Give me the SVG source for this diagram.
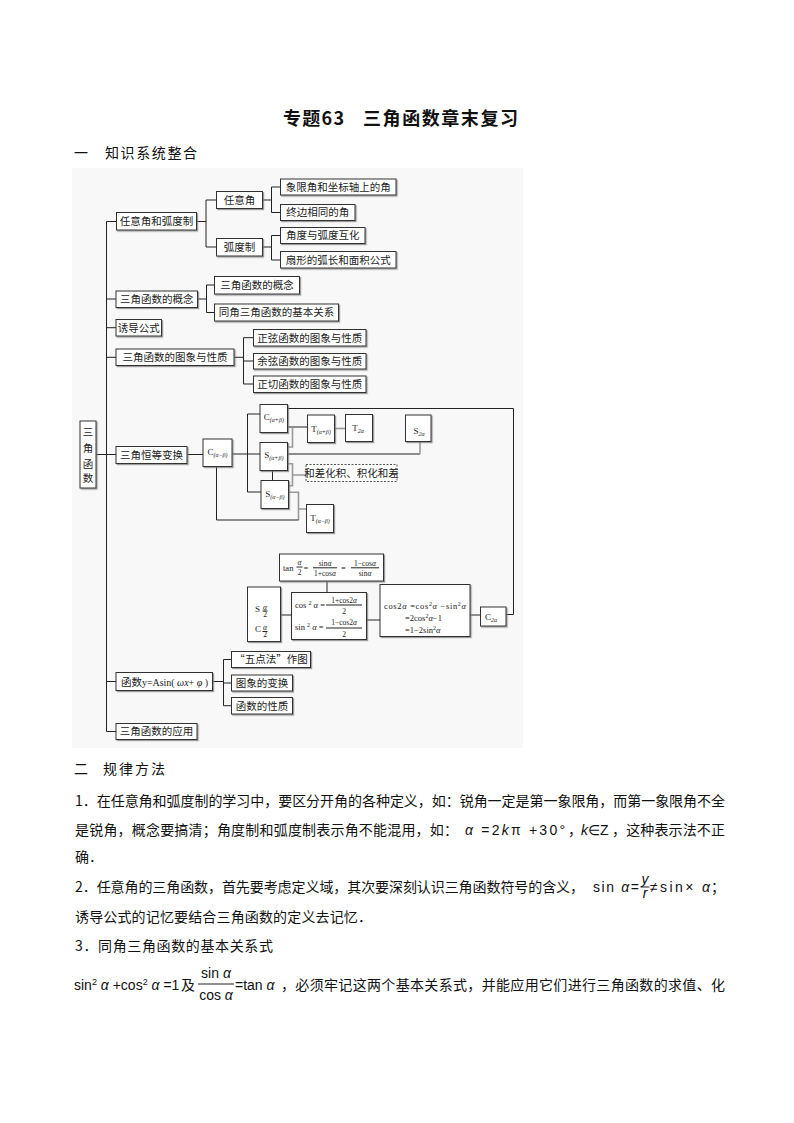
<svg xmlns="http://www.w3.org/2000/svg" width="794" height="1123" viewBox="0 0 794 1123">
<defs>
<filter id="sh" x="-20%" y="-20%" width="140%" height="140%"><feDropShadow dx="1.2" dy="1.2" stdDeviation="0.2" flood-color="#777" flood-opacity="0.7"/></filter>
<style>
.bx{fill:#fff;stroke:#333;stroke-width:1;filter:url(#sh)}
.dbx{fill:#fff;stroke:#555;stroke-width:1;stroke-dasharray:2 1.5}
.k{stroke:#222;stroke-width:1;fill:none}
.g{stroke:#999;stroke-width:1.6;fill:none}
.c{font-family:"Noto Sans CJK SC","Noto Sans",sans-serif;font-size:10.5px;fill:#222;text-anchor:middle}
.cl{font-family:"Noto Sans CJK SC","Noto Sans",sans-serif;font-size:10.5px;fill:#222}
.L{font-family:"Liberation Serif",serif;font-size:9px;fill:#222}
.s{font-size:6px;font-style:italic}
.m{font-family:"Liberation Serif",serif;font-size:8.5px;fill:#222}
.ms{font-family:"Liberation Serif",serif;font-size:7.5px;fill:#222;text-anchor:middle}
.i{font-style:italic}
.t{font-family:"Noto Sans CJK SC","Noto Sans",sans-serif;font-size:14px;fill:#111}
.tm{font-family:"Liberation Sans",sans-serif;font-size:14px;fill:#111}
.h{font-family:"Noto Sans CJK SC","Noto Sans",sans-serif;font-size:18px;font-weight:bold;fill:#111}
</style>
</defs>
<rect width="794" height="1123" fill="#fff"/>
<text class="h" x="283" y="125" textLength="61" lengthAdjust="spacing">专题63</text>
<text class="h" x="363" y="125" textLength="155" lengthAdjust="spacing">三角函数章末复习</text>
<text class="t" x="74" y="158">一</text>
<text class="t" x="105" y="158" textLength="92" lengthAdjust="spacing">知识系统整合</text>
<rect x="72" y="168" width="451" height="580" fill="#f8f8f8"/>

<g id="connectors">
<path class="k" d="M106.5 221.5V731.5M106.5 221.5H116.5M106.5 299H116M106.5 327.7H116M106.5 357.3H116M96 454.5H116M106.5 681.5H116M106.5 731.5H116"/>
<path class="k" d="M196.5 221.5H206M206 200V247M206 200H216.5M206 247H216.5"/>
<path class="k" d="M262.5 200H271.5M271.5 187V212.5M271.5 187H280.5M271.5 212.5H280.5"/>
<path class="k" d="M262.5 247H271.5M271.5 235.5V260M271.5 235.5H280.5M271.5 260H280.5"/>
<path class="k" d="M197.5 299H206.5M206.5 285V312.5M206.5 285H214.5M206.5 312.5H214.5"/>
<path class="k" d="M234 357.3H243.5M243.5 337.7V384M243.5 337.7H253.5M243.5 361H253.5M243.5 384H253.5"/>
<path class="k" d="M187 454.5H203M232 454H260M247.5 414V492M247.5 414H260M247.5 492H261"/>
<path class="k" d="M287.5 408.5H513.5V614.5H506"/>
<path class="k" d="M287.5 427H307.5"/>
<path class="g" d="M287.5 447H292.5V427"/>
<path class="g" d="M334.5 428.5H345.5"/>
<path class="k" d="M287.5 454H420"/>
<path class="g" d="M420 454V441.5"/>
<path class="k" d="M272.5 470.5V480.5"/>
<path class="g" d="M287.5 463.7H292.5V485.7H288.5M292.5 475H306"/>
<path class="g" d="M288.5 492.3H298.5V520M298.5 509H306.5"/>
<path class="k" d="M216.5 466.5V520H298.5"/>
<path class="k" d="M327 581V592.5M280.5 615H291.5M366.5 620H380M470 615H480.5"/>
<path class="k" d="M212.5 681.5H223.5M223.5 659.5V705.7M223.5 659.5H231.5M223.5 683H231.5M223.5 705.7H231.5"/>
</g>

<g id="n-root"><rect class="bx" x="80" y="421" width="16" height="67"/>
<text class="c" font-size="11.5" x="88" y="436">三</text><text class="c" font-size="11.5" x="88" y="452">角</text><text class="c" font-size="11.5" x="88" y="467.5">函</text><text class="c" font-size="11.5" x="88" y="482">数</text></g>

<g id="n-rydhd"><rect class="bx" x="116.5" y="212.5" width="80" height="17.5"/><text class="c" x="156.5" y="225.3">任意角和弧度制</text></g>
<g id="n-ryj"><rect class="bx" x="216.5" y="191.5" width="46" height="17"/><text class="c" x="239.5" y="203.8">任意角</text></g>
<g id="n-hdz"><rect class="bx" x="216.5" y="238.5" width="46" height="17.5"/><text class="c" x="239.5" y="251">弧度制</text></g>
<g id="n-xxj"><rect class="bx" x="280.5" y="179" width="115.5" height="16"/><text class="c" x="338.2" y="190.8">象限角和坐标轴上的角</text></g>
<g id="n-zbxt"><rect class="bx" x="280.5" y="204.5" width="74.5" height="16"/><text class="c" x="317.7" y="216.3">终边相同的角</text></g>
<g id="n-jdhd"><rect class="bx" x="280.5" y="227.5" width="84.5" height="16"/><text class="c" x="322.7" y="239.3">角度与弧度互化</text></g>
<g id="n-sx"><rect class="bx" x="280.5" y="251.5" width="115.5" height="16.5"/><text class="c" x="338.2" y="263.6">扇形的弧长和面积公式</text></g>

<g id="n-gn"><rect class="bx" x="116" y="291" width="81.5" height="16.5"/><text class="c" x="156.7" y="303">三角函数的概念</text></g>
<g id="n-gn2"><rect class="bx" x="214.5" y="276.5" width="85" height="17.5"/><text class="c" x="257" y="289">三角函数的概念</text></g>
<g id="n-tj"><rect class="bx" x="214.5" y="304" width="124" height="17"/><text class="c" x="276.5" y="316.3">同角三角函数的基本关系</text></g>
<g id="n-yd"><rect class="bx" x="116" y="319.5" width="45.5" height="16.5"/><text class="c" x="138.7" y="331.5">诱导公式</text></g>
<g id="n-tx"><rect class="bx" x="116" y="349" width="118" height="16.5"/><text class="c" x="175" y="361">三角函数的图象与性质</text></g>
<g id="n-zx"><rect class="bx" x="253.5" y="329.5" width="112.5" height="16.5"/><text class="c" x="309.7" y="341.5">正弦函数的图象与性质</text></g>
<g id="n-yx"><rect class="bx" x="253.5" y="353.5" width="112.5" height="15.5"/><text class="c" x="309.7" y="365">余弦函数的图象与性质</text></g>
<g id="n-zq"><rect class="bx" x="253.5" y="376" width="112.5" height="16.5"/><text class="c" x="309.7" y="388">正切函数的图象与性质</text></g>

<g id="n-hd"><rect class="bx" x="116" y="446.5" width="71" height="17"/><text class="c" x="151.5" y="458.8">三角恒等变换</text></g>
<g id="n-cmb"><rect class="bx" x="203" y="439" width="29" height="27.5"/><text class="L" x="217.5" y="455" text-anchor="middle">C<tspan class="s" dy="1.5">(α−β)</tspan></text></g>
<g id="n-cpb"><rect class="bx" x="260" y="404.5" width="27.5" height="28"/><text class="L" x="273.8" y="420" text-anchor="middle">C<tspan class="s" dy="1.5">(α+β)</tspan></text></g>
<g id="n-tpb"><rect class="bx" x="307.5" y="415" width="27" height="27.5"/><text class="L" x="321" y="432" text-anchor="middle">T<tspan class="s" dy="1.5">(α+β)</tspan></text></g>
<g id="n-t2a"><rect class="bx" x="345.5" y="414.5" width="27" height="27"/><text class="L" x="358" y="431" text-anchor="middle">T<tspan class="s" dy="1.5">2α</tspan></text></g>
<g id="n-s2a"><rect class="bx" x="405.5" y="415" width="25.5" height="26.5"/><text class="L" x="419" y="434" text-anchor="middle">S<tspan class="s" dy="1.5">2α</tspan></text></g>
<g id="n-spb"><rect class="bx" x="260" y="442.5" width="27.5" height="28"/><text class="L" x="273.8" y="458" text-anchor="middle">S<tspan class="s" dy="1.5">(α+β)</tspan></text></g>
<g id="n-hc"><rect class="dbx" x="306" y="464.5" width="91" height="17"/><text class="c" x="351.5" y="476.8">和差化积、积化和差</text></g>
<g id="n-smb"><rect class="bx" x="261" y="480.5" width="27.5" height="28"/><text class="L" x="274.8" y="497" text-anchor="middle">S<tspan class="s" dy="1.5">(α−β)</tspan></text></g>
<g id="n-tmb"><rect class="bx" x="306.5" y="504.5" width="27" height="28"/><text class="L" x="320" y="521" text-anchor="middle">T<tspan class="s" dy="1.5">(α−β)</tspan></text></g>

<g id="n-tanhalf"><rect class="bx" x="279.5" y="554" width="104" height="27"/>
<text class="m" x="283" y="570.5">tan</text>
<text class="ms i" x="299.5" y="565">α</text><path class="k" stroke-width="0.6" d="M296.5 567H302.5"/><text class="ms" x="299.5" y="574.5">2</text>
<text class="m" x="303.5" y="570.5">=</text>
<text class="ms" x="325" y="565.5">sin<tspan class="i">α</tspan></text><path class="k" stroke-width="0.6" d="M313 567.8H337"/><text class="ms" x="325" y="576">1+cos<tspan class="i">α</tspan></text>
<text class="m" x="341" y="570.5">=</text>
<text class="ms" x="365" y="565.5">1−cos<tspan class="i">α</tspan></text><path class="k" stroke-width="0.6" d="M351 567.8H379"/><text class="ms" x="365" y="576">sin<tspan class="i">α</tspan></text>
</g>
<g id="n-halfsc"><rect class="bx" x="247.5" y="587" width="33" height="54.5"/>
<text class="L" x="255" y="612">S</text><text class="ms i" font-size="5" x="265" y="609.5">α</text><path class="k" stroke-width="0.5" d="M262.5 611H267.5"/><text class="ms" font-size="5" x="265" y="616.5">2</text>
<text class="L" x="255" y="632">C</text><text class="ms i" font-size="5" x="265" y="630">α</text><path class="k" stroke-width="0.5" d="M262.5 631.5H267.5"/><text class="ms" font-size="5" x="265" y="637">2</text>
</g>
<g id="n-sq"><rect class="bx" x="291.5" y="592.5" width="75" height="47"/>
<text class="m" x="295" y="608">cos <tspan font-size="6" dy="-3">2</tspan><tspan class="i" dy="3"> α</tspan> =</text>
<text class="ms" font-size="8" x="344" y="602.5">1+cos2<tspan class="i">α</tspan></text><path class="k" stroke-width="0.6" d="M326 605H362"/><text class="ms" font-size="8" x="344" y="613.5">2</text>
<text class="m" x="295" y="629.5">sin <tspan font-size="6" dy="-3">2</tspan><tspan class="i" dy="3"> α</tspan> =</text>
<text class="ms" font-size="8" x="344" y="625">1−cos2<tspan class="i">α</tspan></text><path class="k" stroke-width="0.6" d="M326 628H362"/><text class="ms" font-size="8" x="344" y="637">2</text>
</g>
<g id="n-cos2a"><rect class="bx" x="380" y="584.5" width="90" height="52"/>
<text class="m" x="384" y="609" textLength="82" lengthAdjust="spacing">cos2<tspan class="i">α</tspan> =cos<tspan font-size="6" dy="-3">2</tspan><tspan class="i" dy="3">α</tspan> −sin<tspan font-size="6" dy="-3">2</tspan><tspan class="i" dy="3">α</tspan></text>
<text class="m" x="405" y="620.5">=2cos<tspan font-size="6" dy="-3">2</tspan><tspan class="i" dy="3">α</tspan>−1</text>
<text class="m" x="405" y="632.5">=1−2sin<tspan font-size="6" dy="-3">2</tspan><tspan class="i" dy="3">α</tspan></text>
</g>
<g id="n-c2a"><rect class="bx" x="480.5" y="607" width="25.5" height="19"/><text class="L" x="485" y="620">C<tspan class="s" dy="1.5">2α</tspan></text></g>

<g id="n-asin"><rect class="bx" x="116" y="672.5" width="96.5" height="18"/><text class="cl" x="121" y="685.5" textLength="87" lengthAdjust="spacing">函数<tspan font-family="Liberation Serif" font-size="10">y=Asin( </tspan><tspan font-family="Liberation Serif" font-size="10" font-style="italic">ωx</tspan><tspan font-family="Liberation Serif" font-size="10">+ </tspan><tspan font-family="Liberation Serif" font-size="10" font-style="italic">φ</tspan><tspan font-family="Liberation Serif" font-size="10"> )</tspan></text></g>
<g id="n-wd"><rect class="bx" x="231.5" y="651.5" width="79" height="16"/><text class="c" x="271" y="663.3">“五点法”作图</text></g>
<g id="n-bh"><rect class="bx" x="231.5" y="675" width="61" height="16"/><text class="c" x="262" y="686.8">图象的变换</text></g>
<g id="n-xz"><rect class="bx" x="231.5" y="697.5" width="61" height="16.5"/><text class="c" x="262" y="709.5">函数的性质</text></g>
<g id="n-yy"><rect class="bx" x="116" y="723.5" width="81" height="16"/><text class="c" x="156.5" y="735.3">三角函数的应用</text></g>

<text class="t" x="74" y="774">二</text>
<text class="t" x="103" y="774" textLength="62" lengthAdjust="spacing">规律方法</text>
<text class="t" x="75" y="806" textLength="650" lengthAdjust="spacing">1．在任意角和弧度制的学习中，要区分开角的各种定义，如：锐角一定是第一象限角，而第一象限角不全</text>
<text class="t" x="75" y="835" textLength="383" lengthAdjust="spacing">是锐角，概念要搞清；角度制和弧度制表示角不能混用，如：</text>
<text class="tm" x="465" y="835" textLength="100" lengthAdjust="spacing"><tspan class="i">α</tspan> =2<tspan class="i">k</tspan>π +30°</text>
<text class="t" x="568" y="835">，</text>
<text class="tm" x="581" y="835"><tspan class="i">k</tspan>∈Z</text>
<text class="t" x="612" y="835" textLength="113" lengthAdjust="spacing">，这种表示法不正</text>
<text class="t" x="75" y="862">确．</text>
<text class="t" x="75" y="892" textLength="509" lengthAdjust="spacing">2．任意角的三角函数，首先要考虑定义域，其次要深刻认识三角函数符号的含义，</text>
<text class="tm" x="593" y="892" textLength="46" lengthAdjust="spacing">sin <tspan class="i">α</tspan>=</text>
<text class="tm i" x="645" y="884" text-anchor="middle">y</text>
<path class="k" d="M640.5 887H649.5"/>
<text class="tm i" x="645" y="898" text-anchor="middle">r</text>
<text class="tm" x="650" y="892" textLength="60" lengthAdjust="spacing">≠sin× <tspan class="i">α</tspan></text>
<text class="t" x="711" y="892">；</text>
<text class="t" x="75" y="922" textLength="297" lengthAdjust="spacing">诱导公式的记忆要结合三角函数的定义去记忆．</text>
<text class="t" x="75" y="951" textLength="198" lengthAdjust="spacing">3．同角三角函数的基本关系式</text>
<text class="tm" x="74" y="990">sin<tspan font-size="9" dy="-5">2</tspan><tspan class="i" dy="5"> α</tspan> +cos<tspan font-size="9" dy="-5">2</tspan><tspan class="i" dy="5"> α</tspan> =1</text>
<text class="t" x="181" y="990">及</text>
<text class="tm" x="216" y="978" text-anchor="middle">sin <tspan class="i">α</tspan></text>
<path class="k" d="M198 984H234"/>
<text class="tm" x="216" y="1000" text-anchor="middle">cos <tspan class="i">α</tspan></text>
<text class="tm" x="235" y="990">=tan <tspan class="i">α</tspan></text>
<text class="t" x="281" y="990" textLength="444" lengthAdjust="spacing">，必须牢记这两个基本关系式，并能应用它们进行三角函数的求值、化</text>
</svg>
